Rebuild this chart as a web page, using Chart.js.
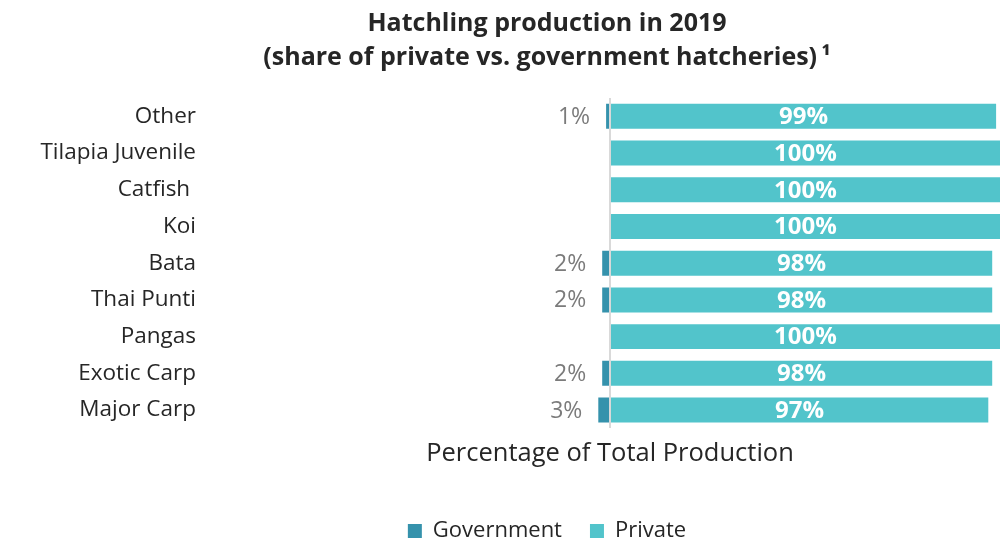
<!DOCTYPE html>
<html>
<head>
<meta charset="utf-8">
<script src="https://cdn.jsdelivr.net/npm/chart.js@4/dist/chart.umd.min.js"></script>
<style>
  html, body { margin: 0; padding: 0; background: #fff; overflow: hidden; }
  #wrap { width: 1008px; height: 552px; position: relative; }
</style>
</head>
<body>
<div id="wrap"><canvas id="hatchChart"></canvas></div>
<script>
// hatchling production, share by hatchery type (%)
const categories = ['Other', 'Tilapia Juvenile', 'Catfish ', 'Koi', 'Bata', 'Thai Punti', 'Pangas', 'Exotic Carp', 'Major Carp'];
const government = [1, 0, 0, 0, 2, 2, 0, 2, 3];
const privateShare = [99, 100, 100, 100, 98, 98, 100, 98, 97];

const GOV_COLOR = '#3592ac';
const PRIV_COLOR = '#52c4cb';
const FONT = "'Open Sans', 'Noto Sans', sans-serif";

// writes the % value on each bar (private inside, government to the left)
const valueLabels = {
  id: 'valueLabels',
  afterDatasetsDraw(chart) {
    const ctx = chart.ctx;
    ctx.save();
    ctx.textBaseline = 'middle';
    chart.data.datasets.forEach((ds, di) => {
      const meta = chart.getDatasetMeta(di);
      meta.data.forEach((bar, i) => {
        const v = ds.raw[i];
        if (!v) return;
        if (ds.label === 'Private') {
          ctx.font = 'bold 24px ' + FONT;
          ctx.fillStyle = '#ffffff';
          ctx.textAlign = 'center';
          ctx.fillText(v + '%', (bar.x + bar.base) / 2, bar.y + 1);
        } else {
          ctx.font = '23px ' + FONT;
          ctx.fillStyle = '#7b7b7b';
          ctx.textAlign = 'right';
          ctx.fillText(v + '%', Math.min(bar.x, bar.base) - 16, bar.y + 1);
        }
      });
    });
    ctx.restore();
  }
};

// long category names run past the axis box, so widen its clip area to the canvas edge
const unclipY = {
  id: 'unclipY',
  afterLayout(chart) {
    chart.scales.y.left = 0;
  }
};

new Chart(document.getElementById('hatchChart'), {
  type: 'bar',
  data: {
    labels: categories,
    datasets: [
      {
        label: 'Government',
        raw: government,
        data: government.map(v => -v),
        backgroundColor: GOV_COLOR,
        categoryPercentage: 0.8,
        barPercentage: 0.85
      },
      {
        label: 'Private',
        raw: privateShare,
        data: privateShare,
        backgroundColor: PRIV_COLOR,
        categoryPercentage: 0.8,
        barPercentage: 0.85
      }
    ]
  },
  options: {
    indexAxis: 'y',
    responsive: true,
    maintainAspectRatio: false,
    animation: false,
    layout: { padding: { left: 94, right: 8, top: 0, bottom: 0 } },
    plugins: {
      tooltip: { enabled: false },
      title: {
        display: true,
        text: ['Hatchling production in 2019', '(share of private vs. government hatcheries)\u2009\u00b9'],
        color: '#262626',
        font: { family: FONT, size: 25, weight: 'bold', lineHeight: 1.36 },
        padding: { top: 7, bottom: 23 }
      },
      legend: {
        position: 'bottom',
        labels: {
          color: '#262626',
          font: { family: FONT, size: 22 },
          boxWidth: 14,
          boxHeight: 14,
          padding: 28
        }
      }
    },
    scales: {
      x: {
        stacked: true,
        min: -100,
        max: 100,
        ticks: { display: false, stepSize: 50 },
        border: { display: false },
        grid: {
          drawTicks: false,
          lineWidth: 2,
          color: c => (c.tick && c.tick.value === 0 ? '#d9d9d9' : 'rgba(0,0,0,0)')
        },
        title: {
          display: true,
          text: 'Percentage of Total Production',
          color: '#262626',
          font: { family: FONT, size: 25.5 },
          padding: { top: 10, bottom: 23 }
        }
      },
      y: {
        stacked: true,
        border: { display: false },
        grid: { display: false, drawTicks: false },
        ticks: {
          color: '#262626',
          font: { family: FONT, size: 22.5 },
          padding: 24
        },
        afterFit(scale) { scale.width = 126; }
      }
    }
  },
  plugins: [valueLabels, unclipY]
});
</script>
</body>
</html>
